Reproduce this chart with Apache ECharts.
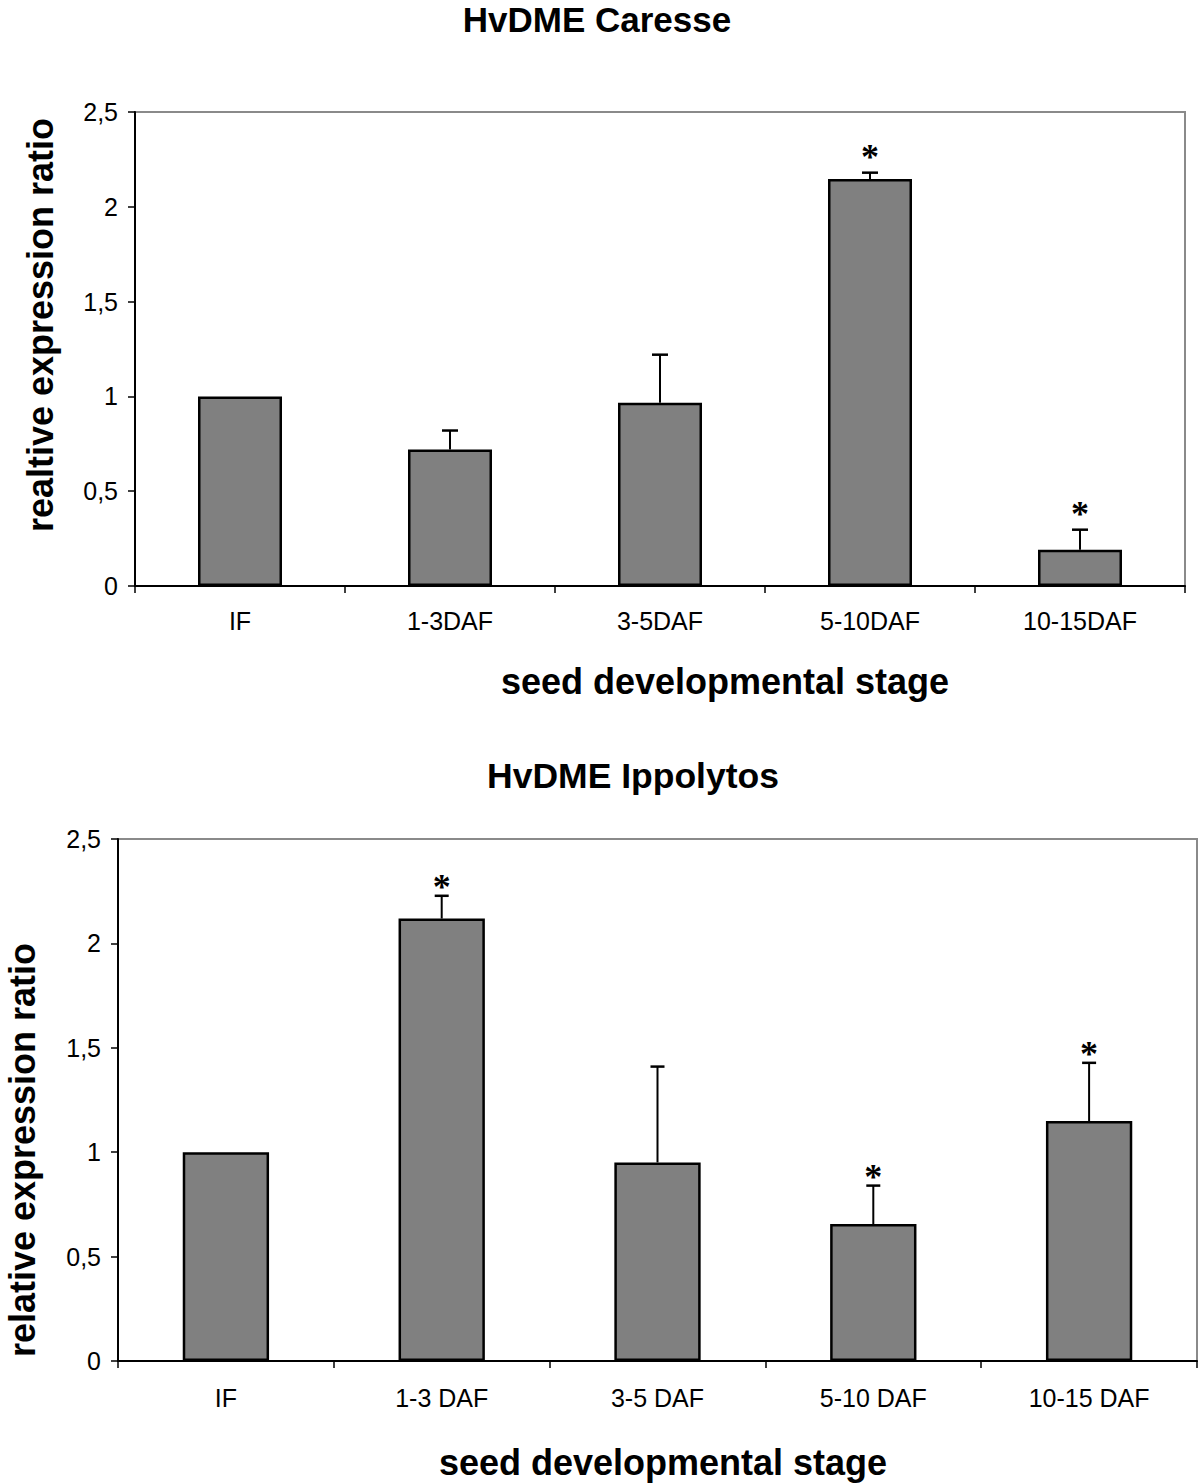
<!DOCTYPE html>
<html>
<head>
<meta charset="utf-8">
<script src="https://cdn.jsdelivr.net/npm/echarts@6/dist/echarts.min.js"></script>
<style>html,body{margin:0;padding:0;background:#fff}#c{width:1200px;height:1483px}</style>
</head>
<body>
<div id="c"></div>
<script>
// ---- data ----
const titleTop = 'HvDME Caresse';
const titleBottom = 'HvDME Ippolytos';
const yNameTop = 'realtive expression ratio';
const yNameBottom = 'relative expression ratio';
const xName = 'seed developmental stage';

const categoriesTop = ['IF', '1-3DAF', '3-5DAF', '5-10DAF', '10-15DAF'];
const valuesTop = [1.0, 0.72, 0.966, 2.147, 0.191];
const errorsTop = [0, 0.10, 0.254, 0.033, 0.106];
const significantTop = [false, false, false, true, true];

const categoriesBottom = ['IF', '1-3 DAF', '3-5 DAF', '5-10 DAF', '10-15 DAF'];
const valuesBottom = [1.0, 2.119, 0.951, 0.656, 1.149];
const errorsBottom = [0, 0.109, 0.459, 0.184, 0.279];
const significantBottom = [false, true, false, true, true];

const yMin = 0, yMax = 2.5, yInterval = 0.5;

// ---- chart ----
const FONT = '"Liberation Sans", Arial, Helvetica, sans-serif';
const chart = echarts.init(document.getElementById('c'), null, {renderer: 'svg'});

function errData(vals, errs, sig) {
  return vals.map((v, i) => [i, v, v + errs[i], sig[i] ? 1 : 0, errs[i]]);
}

function makeErrRender(capHalf, starGap) {
  return function (params, api) {
    const x = api.value(0);
    const base = api.coord([x, api.value(1)]);
    const top = api.coord([x, api.value(2)]);
    const children = [];
    if (api.value(4) > 0) {
      children.push({type: 'line', shape: {x1: base[0], y1: base[1], x2: top[0], y2: top[1]},
        style: {stroke: '#000', lineWidth: 2}});
      children.push({type: 'line', shape: {x1: top[0] - capHalf, y1: top[1], x2: top[0] + capHalf, y2: top[1]},
        style: {stroke: '#000', lineWidth: 2.5}});
    }
    if (api.value(3) === 1) {
      children.push({type: 'text', x: top[0], y: top[1] - starGap,
        style: {text: '*', fill: '#000', font: 'bold 36px "Liberation Serif", "Times New Roman", serif',
          align: 'center', verticalAlign: 'middle'}});
    }
    return {type: 'group', children: children};
  };
}

const yLabelFmt = v => String(v).replace('.', ',');

function yAxisCfg(gridIndex) {
  return {
    type: 'value', gridIndex: gridIndex, min: yMin, max: yMax, interval: yInterval,
    axisLine: {show: true, lineStyle: {color: '#000', width: 2}},
    axisTick: {show: true, length: 7, lineStyle: {color: '#000', width: 1.5}},
    axisLabel: {formatter: yLabelFmt, fontFamily: FONT, fontSize: 25, color: '#000', margin: 17},
    splitLine: {show: false}
  };
}
function xAxisCfg(gridIndex, cats, margin) {
  return {
    type: 'category', gridIndex: gridIndex, data: cats,
    axisLine: {show: true, lineStyle: {color: '#000', width: 2}},
    axisTick: {show: true, length: 7, lineStyle: {color: '#000', width: 1.5}},
    axisLabel: {fontFamily: FONT, fontSize: 25, color: '#000', margin: margin},
    splitLine: {show: false}
  };
}

function centeredText(text, x, y, size, rotate) {
  return {type: 'text', x: x, y: y, rotation: rotate || 0,
    style: {text: text, font: 'bold ' + size + 'px ' + FONT, fill: '#000',
      align: 'center', verticalAlign: 'middle', textAlign: 'center', textVerticalAlign: 'middle'}};
}

const option = {
  backgroundColor: '#fff',
  animation: false,
  grid: [
    {left: 135, top: 112, right: 15, height: 474, show: true, borderColor: '#8a8a8a', borderWidth: 2, backgroundColor: '#fff'},
    {left: 118, top: 839, right: 3, height: 522, show: true, borderColor: '#8a8a8a', borderWidth: 2, backgroundColor: '#fff'}
  ],
  xAxis: [xAxisCfg(0, categoriesTop, 22), xAxisCfg(1, categoriesBottom, 24)],
  yAxis: [yAxisCfg(0), yAxisCfg(1)],
  graphic: [
    centeredText(titleTop, 597, 19, 35),
    centeredText(titleBottom, 633, 776, 35.5),
    centeredText(xName, 725, 681, 36),
    centeredText(xName, 663, 1462, 36),
    centeredText(yNameTop, 40, 325, 36, Math.PI / 2),
    centeredText(yNameBottom, 22, 1150, 36, Math.PI / 2)
  ],
  series: [
    {type: 'bar', xAxisIndex: 0, yAxisIndex: 0, data: valuesTop, barWidth: '40%',
      itemStyle: {color: '#808080', borderColor: '#000', borderWidth: 2.5}},
    {type: 'custom', xAxisIndex: 0, yAxisIndex: 0, data: errData(valuesTop, errorsTop, significantTop),
      renderItem: makeErrRender(8, 16), encode: {x: 0, y: [1, 2]}, z: 5},
    {type: 'bar', xAxisIndex: 1, yAxisIndex: 1, data: valuesBottom, barWidth: '40%',
      itemStyle: {color: '#808080', borderColor: '#000', borderWidth: 2.5}},
    {type: 'custom', xAxisIndex: 1, yAxisIndex: 1, data: errData(valuesBottom, errorsBottom, significantBottom),
      renderItem: makeErrRender(7, 9), encode: {x: 0, y: [1, 2]}, z: 5}
  ]
};
chart.setOption(option);
</script>
</body>
</html>
